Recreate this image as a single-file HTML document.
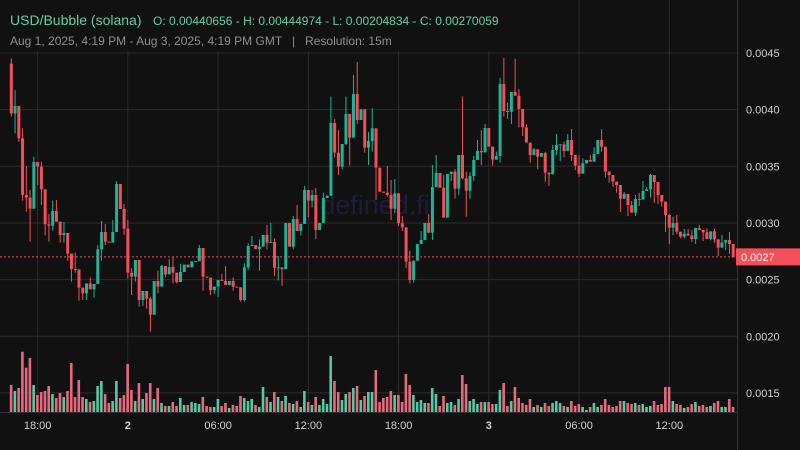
<!DOCTYPE html>
<html><head><meta charset="utf-8"><style>
body{margin:0;background:#111111;width:800px;height:450px;overflow:hidden;font-family:"Liberation Sans",sans-serif;}
svg{display:block}
</style></head><body>
<svg id="chart" width="800" height="450" xmlns="http://www.w3.org/2000/svg">
<rect x="0" y="0" width="800" height="450" fill="#111111"/>
<g id="grid"></g>
<text x="375" y="214" text-anchor="middle" font-size="27" fill="#1d1d38" font-family="'Liberation Sans',sans-serif">defined.fi</text>
<g id="vol"></g>
<g id="candles"></g>
<g id="axes"></g>
<rect x="0" y="0" width="506" height="51" fill="#111111"/>
<text x="10" y="25" font-size="14" fill="#5fd1a6">USD/Bubble (solana)</text>
<text x="153" y="25" font-size="12" fill="#5fd1a6">O: 0.00440656 - H: 0.00444974 - L: 0.00204834 - C: 0.00270059</text>
<text x="10" y="45" font-size="12" fill="#8e8e8e">Aug 1, 2025, 4:19 PM - Aug 3, 2025, 4:19 PM GMT &#160; | &#160; Resolution: 15m</text>
</svg>
<script>
// prices in millionths (x1e-6)
const firstOpen = 4407;
const closes = [3967,4032,3747,3247,3223,3126,3538,3497,3297,2988,2976,3106,3011,2894,2911,2729,2594,2590,2429,2379,2467,2414,2461,2767,2920,2835,2826,2920,3344,3123,2950,2561,2526,2673,2320,2399,2332,2190,2488,2438,2620,2546,2611,2561,2479,2567,2632,2608,2661,2663,2779,2526,2517,2408,2438,2497,2488,2452,2488,2438,2432,2320,2608,2797,2805,2770,2791,2894,2826,2832,2605,2608,2591,3000,2791,3035,2929,2991,3291,3197,3247,2938,3000,3220,3241,3882,3620,3497,3697,3962,3753,4138,3909,4003,3665,3723,3835,3488,3276,3267,3247,3126,3261,2997,2961,2658,2497,2667,2814,2850,3000,2914,3317,3441,3311,3047,3432,3453,3303,3600,3394,3285,3414,3556,3635,3623,3838,3673,3559,3591,4226,3988,3982,4156,4123,4006,3844,3709,3600,3650,3585,3617,3444,3429,3644,3688,3694,3635,3732,3600,3506,3435,3526,3556,3541,3609,3732,3673,3453,3423,3364,3335,3214,3256,3158,3091,3211,3206,3282,3297,3423,3361,3247,3188,3070,2958,3000,2923,2879,2905,2888,2858,2955,2938,2917,2858,2926,2855,2782,2826,2850,2814,2697];
const wickHighs = [[1,4450],[2,4173],[4,3835],[5,3497],[6,3291],[7,3585],[9,3541],[11,3079],[12,3197],[13,3203],[15,3008],[18,2738],[22,2520],[24,2805],[25,3017],[26,2991],[28,3026],[29,3370],[31,3167],[32,3026],[33,2600],[38,2349],[40,2579],[41,2629],[43,2682],[44,2697],[46,2638],[51,2805],[57,2549],[58,2620],[60,2520],[63,2644],[64,2820],[65,2885],[67,2855],[69,2982],[70,3000],[71,2864],[72,2708],[76,3061],[77,3158],[79,3326],[81,3291],[82,3308],[84,3267],[86,4115],[87,3918],[88,3820],[90,4115],[92,4306],[93,4421],[96,3803],[97,4012],[101,3503],[102,3379],[103,3388],[105,3061],[107,2755],[110,2929],[112,3079],[113,3512],[114,3600],[116,3423],[119,3476],[121,4115],[122,3453],[123,3447],[124,3591],[125,3732],[126,3820],[127,3873],[128,3703],[130,3629],[131,4279],[132,4456],[133,4062],[135,4450],[136,4182],[138,3873],[140,3662],[143,3629],[145,3688],[146,3785],[148,3718],[149,3785],[150,3829],[152,3600],[153,3570],[155,3600],[156,3667],[158,3829],[164,3273],[166,3194],[167,3247],[168,3264],[169,3370],[170,3317],[171,3432],[173,3300],[176,3076],[177,3055],[178,3070],[180,2947],[181,2947],[182,2938],[184,2982],[186,2953],[188,2947],[190,2894],[192,2920]];
const wickLows = [[1,3938],[2,3791],[3,3718],[4,3197],[5,3100],[6,2835],[8,3335],[9,3158],[10,2888],[11,2835],[12,2932],[14,2826],[15,2826],[16,2667],[17,2482],[18,2561],[19,2314],[20,2320],[21,2320],[23,2341],[25,2667],[26,2805],[31,2894],[32,2508],[33,2364],[34,2482],[35,2261],[36,2267],[37,2246],[38,2041],[40,2379],[42,2520],[44,2467],[45,2467],[52,2402],[54,2364],[55,2373],[56,2349],[60,2402],[62,2305],[63,2305],[64,2585],[67,2579],[69,2767],[71,2532],[72,2491],[73,2444],[76,2767],[78,2888],[80,3050],[81,3138],[82,2858],[83,2982],[87,3579],[88,3423],[89,3473],[90,3688],[91,3506],[93,3873],[95,3620],[96,3512],[97,3629],[98,3203],[101,3232],[102,3026],[103,3085],[104,2973],[105,2929],[106,2600],[107,2467],[108,2473],[113,2850],[118,3370],[119,3217],[120,3247],[121,3385],[122,3055],[123,3211],[124,3373],[126,3512],[129,3506],[131,3532],[132,3938],[133,3918],[134,3873],[136,3844],[137,3767],[139,3532],[141,3473],[143,3364],[144,3326],[146,3600],[147,3547],[148,3578],[150,3547],[151,3467],[152,3406],[158,3629],[159,3400],[160,3356],[161,3320],[162,3267],[163,3097],[165,3061],[167,3061],[168,3150],[171,3223],[172,3176],[173,3167],[174,3144],[175,2920],[176,2814],[177,2894],[178,2902],[179,2864],[180,2864],[182,2832],[183,2814],[185,2841],[187,2844],[188,2823],[189,2708],[191,2761],[192,2726]];
const volumes = [81,63,72,181,133,162,81,51,60,63,78,54,42,57,45,63,147,45,96,45,39,30,33,78,93,54,27,33,93,42,51,144,66,33,87,39,57,87,39,72,27,18,18,30,18,42,21,21,30,27,24,45,18,15,15,39,18,27,12,21,18,48,42,33,39,21,15,75,45,30,60,45,33,48,27,24,33,15,63,30,21,45,21,39,24,168,93,60,36,54,60,72,78,36,48,60,
60,126,30,42,45,63,51,51,30,114,81,51,30,36,27,27,72,54,18,48,27,30,21,39,111,84,33,39,24,30,30,30,24,24,66,87,18,33,75,42,27,21,39,15,21,15,27,18,27,33,27,18,15,33,18,24,15,6,15,27,15,21,39,21,15,18,33,33,27,24,27,21,24,15,18,33,21,24,75,75,33,24,21,12,15,24,30,18,21,15,18,27,33,15,15,39,15];
const priceTicks = [4500,4000,3500,3000,2500,2000,1500];
const priceTickLabels = ["0.0045","0.0040","0.0035","0.0030","0.0025","0.0020","0.0015"];
const timeTickIdx = [7,31,55,79,103,127,151,175];
const timeTickLabels = ["18:00","2","06:00","12:00","18:00","3","06:00","12:00"];
const timeTickBold = [false,true,false,false,false,true,false,false];
const lastPrice = 2700.59;
const lastPriceLabel = "0.0027";

const NS="http://www.w3.org/2000/svg";
const xOf = i => 11.3 + i*3.76;
const yOf = v => 53 + (4500 - v)*0.1133;
const volBase = 412, volScale = 0.333;
const UP="#1db394", DOWN="#f24f5a", VUP="#55c9a4", VDOWN="#e56a7e";
function mk(tag, attrs, parent){const e=document.createElementNS(NS,tag);for(const k in attrs)e.setAttribute(k,attrs[k]);parent.appendChild(e);return e;}

const grid=document.getElementById('grid');
priceTicks.forEach((p,k)=>{
  const l=mk('line',{x1:0,x2:737,y1:yOf(p),y2:yOf(p),stroke:'#2c2c2c','stroke-width':1},grid);
  
  
});
timeTickIdx.forEach(i=>{
  const l=mk('line',{x1:xOf(i),x2:xOf(i),y1:0,y2:412,stroke:'#2c2c2c','stroke-width':1},grid);
  
  
});

const hiMap={},loMap={};
wickHighs.forEach(a=>hiMap[a[0]-1]=a[1]);
wickLows.forEach(a=>loMap[a[0]-1]=a[1]);

const vg=document.getElementById('vol'), cg=document.getElementById('candles');
let prev=firstOpen;
closes.forEach((c,i)=>{
  const o=prev; prev=c;
  const up=c>=o;
  const x=xOf(i);
  const hi=Math.max(o,c,hiMap[i]||0);
  const lo=Math.min(o,c,loMap[i]!==undefined?loMap[i]:1e9);
  const h=volumes[i]*volScale;
  const vb=mk('rect',{x:x-1.5,y:volBase-h,width:2.6,height:h,fill:up?VUP:VDOWN},vg);
  
  
  const w=mk('line',{x1:x,x2:x,y1:yOf(hi),y2:yOf(lo),stroke:up?UP:DOWN,'stroke-width':1},cg);
  
  
  const top=yOf(Math.max(o,c)), bot=yOf(Math.min(o,c));
  const b=mk('rect',{x:x-1.5,y:top,width:3,height:Math.max(1,bot-top),fill:up?UP:DOWN},cg);
  
  
});

const ax=document.getElementById('axes');
const bl=mk('line',{x1:0,x2:737,y1:412.5,y2:412.5,stroke:'#333','stroke-width':1},ax);


const rl=mk('line',{x1:737.5,x2:737.5,y1:0,y2:450,stroke:'#333','stroke-width':1},ax);


priceTicks.forEach((p,k)=>{
  const t=mk('text',{x:746,y:yOf(p)+4,'font-size':11,fill:'#d0d0d0'},ax);
  t.textContent=priceTickLabels[k];
  
  
});
timeTickIdx.forEach((i,k)=>{
  const t=mk('text',{x:xOf(i),y:429,'font-size':11,fill:'#d0d0d0','text-anchor':'middle','font-weight':timeTickBold[k]?'bold':'normal'},ax);
  t.textContent=timeTickLabels[k];
  
  
});
const ly=yOf(lastPrice);
const pl=mk('line',{x1:0,x2:737,y1:ly,y2:ly,stroke:'#f24f5a','stroke-width':1,'stroke-dasharray':'2,2'},ax);


const pr=mk('rect',{x:736,y:ly-8.5,width:64,height:17,fill:'#f24f5a'},ax);


const pt=mk('text',{x:741,y:ly+4,'font-size':11,fill:'#ffffff'},ax);
pt.textContent=lastPriceLabel;


</script>
</body></html>
